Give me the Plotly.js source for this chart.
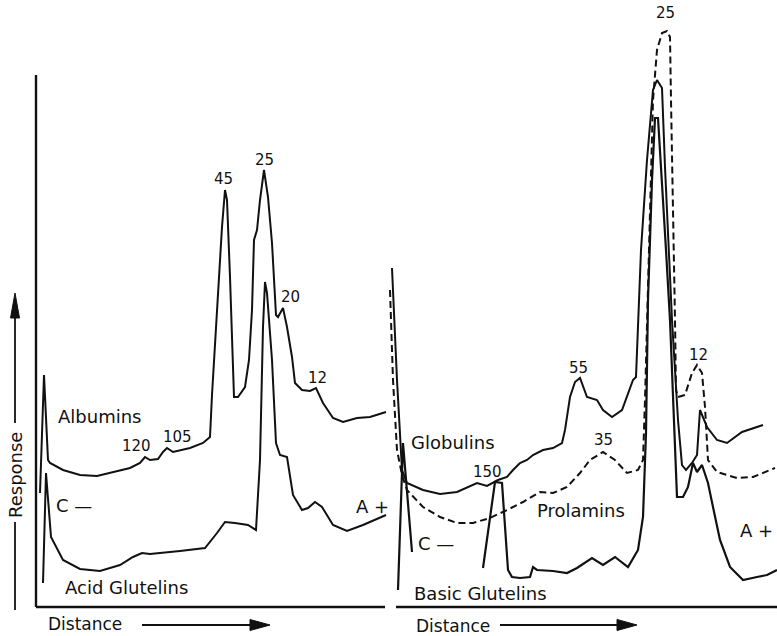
<!DOCTYPE html>
<html><head><meta charset="utf-8">
<script src="https://cdn.plot.ly/plotly-3.0.1.min.js"></script>
<style>html,body{margin:0;padding:0;background:#fff}#chart{width:777px;height:636px}</style>
</head><body><div id="chart"></div>
<script>
// ---- Left panel: Albumins and Acid Glutelins (distance, response) ----
const albuminsDist = [1,2,3,3.5,6.75,11,15.25,19.25,23.5,26,27.25,28.5,30.5,31.75,32.75,34.25,38.5,41.75,43.5,44,45.25,46.5,47.25,47.75,48.5,49.25,49.5,50.5,52.25,53.25,54,54.5,55.25,56,57,58,59,60,60.5,61.75,62.75,64,64.75,66.5,68.5,70,71.75,74.25,76.75,80.25,83.5,87.5];
const albuminsResp = [22.8,46.4,29.4,28.8,27.4,26.4,26.2,27,27.8,28.8,30,29.4,29.6,31,31.8,31,31.8,32.8,34,42.4,59.4,76,83.4,81.4,66,49.4,42,42,44,49.4,59.4,73.4,75.4,81.4,87.4,82,72.8,58.4,58,59.8,56,50,44.8,43.4,43.2,43.8,40.8,37.8,37,37.8,38,39];

const acidGlutelinsDist = [1.75,2.5,3.75,6.75,11,16,21,24.25,26.5,28.5,36,42.25,45.25,47.25,49.75,53,55,56,56.75,57.25,57.75,59,60,61,62.75,64.25,66.5,68,69.75,71.5,74.25,77.75,81.75,87.5];
const acidGlutelinsResp = [4.8,26.8,14,9.4,7.6,7.2,8.4,10,10.8,10.6,11.2,11.8,14.8,17,16.8,16.4,15.4,29.4,56,65,62.8,49.4,32.8,30.4,30,22.4,19.4,19.8,21,20,16.4,15.2,16.4,18.4];

// ---- Right panel: Globulins, Prolamins, Basic Glutelins ----
const globulinsDist = [1.5,2.75,4,5.25,9.25,13.5,17.75,21,22.75,25.25,28,30.25,31.75,33.5,35.25,36.75,39.25,41.75,44,44.75,46,47.25,48.5,50.25,52.75,54.25,56.5,59,61.75,62.5,63.25,63.75,65.25,66.75,67.75,69,69.75,71.5,73,74,75,76.5,77.75,78.5,80.25,82.75,85.25,89,94.25];
const globulinsResp = [67.8,45.4,27.4,24.8,23.4,22.6,23,24.2,24.8,24.2,25.4,26,27.4,28.8,29.4,30.4,31.4,31.8,32.8,35.4,42,45,45.8,42,41.4,39.4,38,39.4,45.4,46,61.4,71.4,89.4,103.4,105.4,103.8,88,57.4,37.4,28.4,27.4,28.8,30.4,39.4,36,33.4,32.8,35,36.4];

const prolaminsDist = [1,1.75,2.75,4,5.25,9.25,13.5,17.75,21.75,26,30.25,34.25,38.5,41.75,45.25,48.5,51,54.25,57.25,60.25,63,64.25,64.75,65.25,66,66.75,67.75,69,70.25,71,71.25,71.75,72.25,72.5,73,74.75,76.5,77.75,79,79.75,80.5,82.75,87.75,91.75,97.25];
const prolaminsResp = [63.4,45.4,31.4,26.4,23.4,20,18,16.8,16.8,17.8,19.4,21,23,22.8,24,26.8,29.4,31,29.4,26.8,27.4,29.4,41.4,57.4,81.4,101.4,111.4,114.8,115.2,114,101.4,81.4,57.4,43.4,42,42.4,46.8,48.4,46.8,40,29.4,27,25.8,26,27.8];

const basicGlutelinsDist = [3,4.25,6.5,null,24.25,27.25,29,30.5,31.5,33.5,36,36.75,37.75,41.75,45.25,47.75,51.5,54.25,57.25,60.5,63,64.25,65,65.5,66.5,67.25,68,69,70,71,72,72.75,74.25,75.5,76.75,77.75,79,80.5,81.75,83.5,86,89.25,92.75,95.25,97.75];
const basicGlutelinsResp = [3.4,32.8,11,null,7.8,25,24.8,7.4,6,5.8,6,8,7.4,7.2,6.8,7.8,9.8,8.4,10,8,11.4,18,34.8,61.4,85.4,97.8,97.8,85.4,71.4,57.4,37.4,22,22,24,28.8,27,28.4,24.8,20,13.4,8,5.4,6,6.4,7.4];

// ---- Text labels ----
const leftPeakLabels = ['120','105','45','25','20','12'];
const rightPeakLabels = ['150','55','35','25','12'];
const fractionNames = ['Albumins','Acid Glutelins','Globulins','Prolamins','Basic Glutelins'];

const W = 777, H = 636;
const PX = x => x / W, PY = y => 1 - y / H;
const INK = '#111111';
const FONT = 'DejaVu Sans, Liberation Sans, sans-serif';

function line(x, y, xa, ya, dash, width) {
  return {type:'scatter', mode:'lines', x:x, y:y, xaxis:xa, yaxis:ya,
    line:{color:INK, width:width || 2, dash:dash || 'solid'},
    connectgaps:false, hoverinfo:'skip', showlegend:false};
}

const traces = [
  line(albuminsDist, albuminsResp, 'x', 'y'),
  line(acidGlutelinsDist, acidGlutelinsResp, 'x', 'y'),
  line(globulinsDist, globulinsResp, 'x2', 'y2'),
  line(prolaminsDist, prolaminsResp, 'x2', 'y2', '7px,4px'),
  line(basicGlutelinsDist, basicGlutelinsResp, 'x2', 'y2', 'solid', 2.2)
];

function ann(text, x, y, size, extra) {
  return Object.assign({text:text, xref:'paper', yref:'paper', x:PX(x), y:PY(y),
    xanchor:'center', yanchor:'middle', showarrow:false,
    font:{family:FONT, size:size, color:INK}}, extra || {});
}

const annotations = [
  ann('Response', 15, 475, 18, {textangle:-90}),
  ann('Distance', 85, 624, 17),
  ann('Distance', 453, 626, 17),
  ann(fractionNames[0], 99, 416, 18),
  ann('C —', 74, 505, 18),
  ann('A +', 372, 506, 18),
  ann(fractionNames[1], 127, 587, 18),
  ann(leftPeakLabels[0], 136, 446, 15),
  ann(leftPeakLabels[1], 177, 437, 15),
  ann(leftPeakLabels[2], 223, 179, 15),
  ann(leftPeakLabels[3], 264, 160, 15),
  ann(leftPeakLabels[4], 290, 297, 15),
  ann(leftPeakLabels[5], 317, 378, 15),
  ann(fractionNames[2], 453, 442, 18),
  ann(fractionNames[3], 581, 510, 18),
  ann(fractionNames[4], 480, 593, 18),
  ann('C —', 436, 543, 18),
  ann('A +', 775, 530, 18, {xanchor:'right'}),
  ann(rightPeakLabels[0], 487, 472, 15),
  ann(rightPeakLabels[1], 578, 368, 15),
  ann(rightPeakLabels[2], 603, 440, 15),
  ann(rightPeakLabels[3], 665, 13, 15),
  ann(rightPeakLabels[4], 698, 355, 15)
];

function pline(x0, y0, x1, y1, w) {
  return {type:'line', xref:'paper', yref:'paper', x0:PX(x0), y0:PY(y0), x1:PX(x1), y1:PY(y1),
    line:{color:INK, width:w || 2}};
}
function ptri(pts) {
  const p = pts.map((q, i) => (i ? 'L' : 'M') + PX(q[0]) + ',' + PY(q[1])).join(' ') + ' Z';
  return {type:'path', xref:'paper', yref:'paper', path:p, fillcolor:INK, line:{color:INK, width:1}};
}

const shapes = [
  // left panel axes
  {type:'line', xref:'x', yref:'y', x0:0, x1:0, y0:0, y1:106.4, line:{color:INK, width:2.4}},
  {type:'line', xref:'x', yref:'y', x0:0, x1:87.25, y0:0, y1:0, line:{color:INK, width:2.4}},
  // right panel baseline
  {type:'line', xref:'x2', yref:'y2', x0:2.5, x1:97.75, y0:0, y1:0, line:{color:INK, width:2.4}},
  // Response arrow
  pline(15, 610, 15, 522, 1.8),
  pline(15, 423, 15, 310, 1.8),
  ptri([[15,293],[10.5,318],[19.5,318]]),
  // Distance arrows
  pline(142, 625, 252, 625, 1.8),
  ptri([[270,625],[250,619.5],[250,630.5]]),
  pline(500, 625, 620, 625, 1.8),
  ptri([[637,625],[617,619.5],[617,630.5]])
];

const hidden = {visible:false, fixedrange:true, showgrid:false, zeroline:false};
const layout = {
  width:W, height:H, margin:{l:0, r:0, t:0, b:0, pad:0},
  paper_bgcolor:'#fff', plot_bgcolor:'rgba(0,0,0,0)', showlegend:false,
  xaxis:Object.assign({domain:[0, 388/W], range:[-9, 88], anchor:'y'}, hidden),
  yaxis:Object.assign({domain:[0, 1], range:[-5.8, 121.4], anchor:'x'}, hidden),
  xaxis2:Object.assign({domain:[388/W, 1], range:[0.5, 97.75], anchor:'y2'}, hidden),
  yaxis2:Object.assign({domain:[0, 1], range:[-5.8, 121.4], anchor:'x2'}, hidden),
  shapes:shapes, annotations:annotations
};

Plotly.newPlot('chart', traces, layout, {staticPlot:true, displayModeBar:false});
</script>
</body></html>
